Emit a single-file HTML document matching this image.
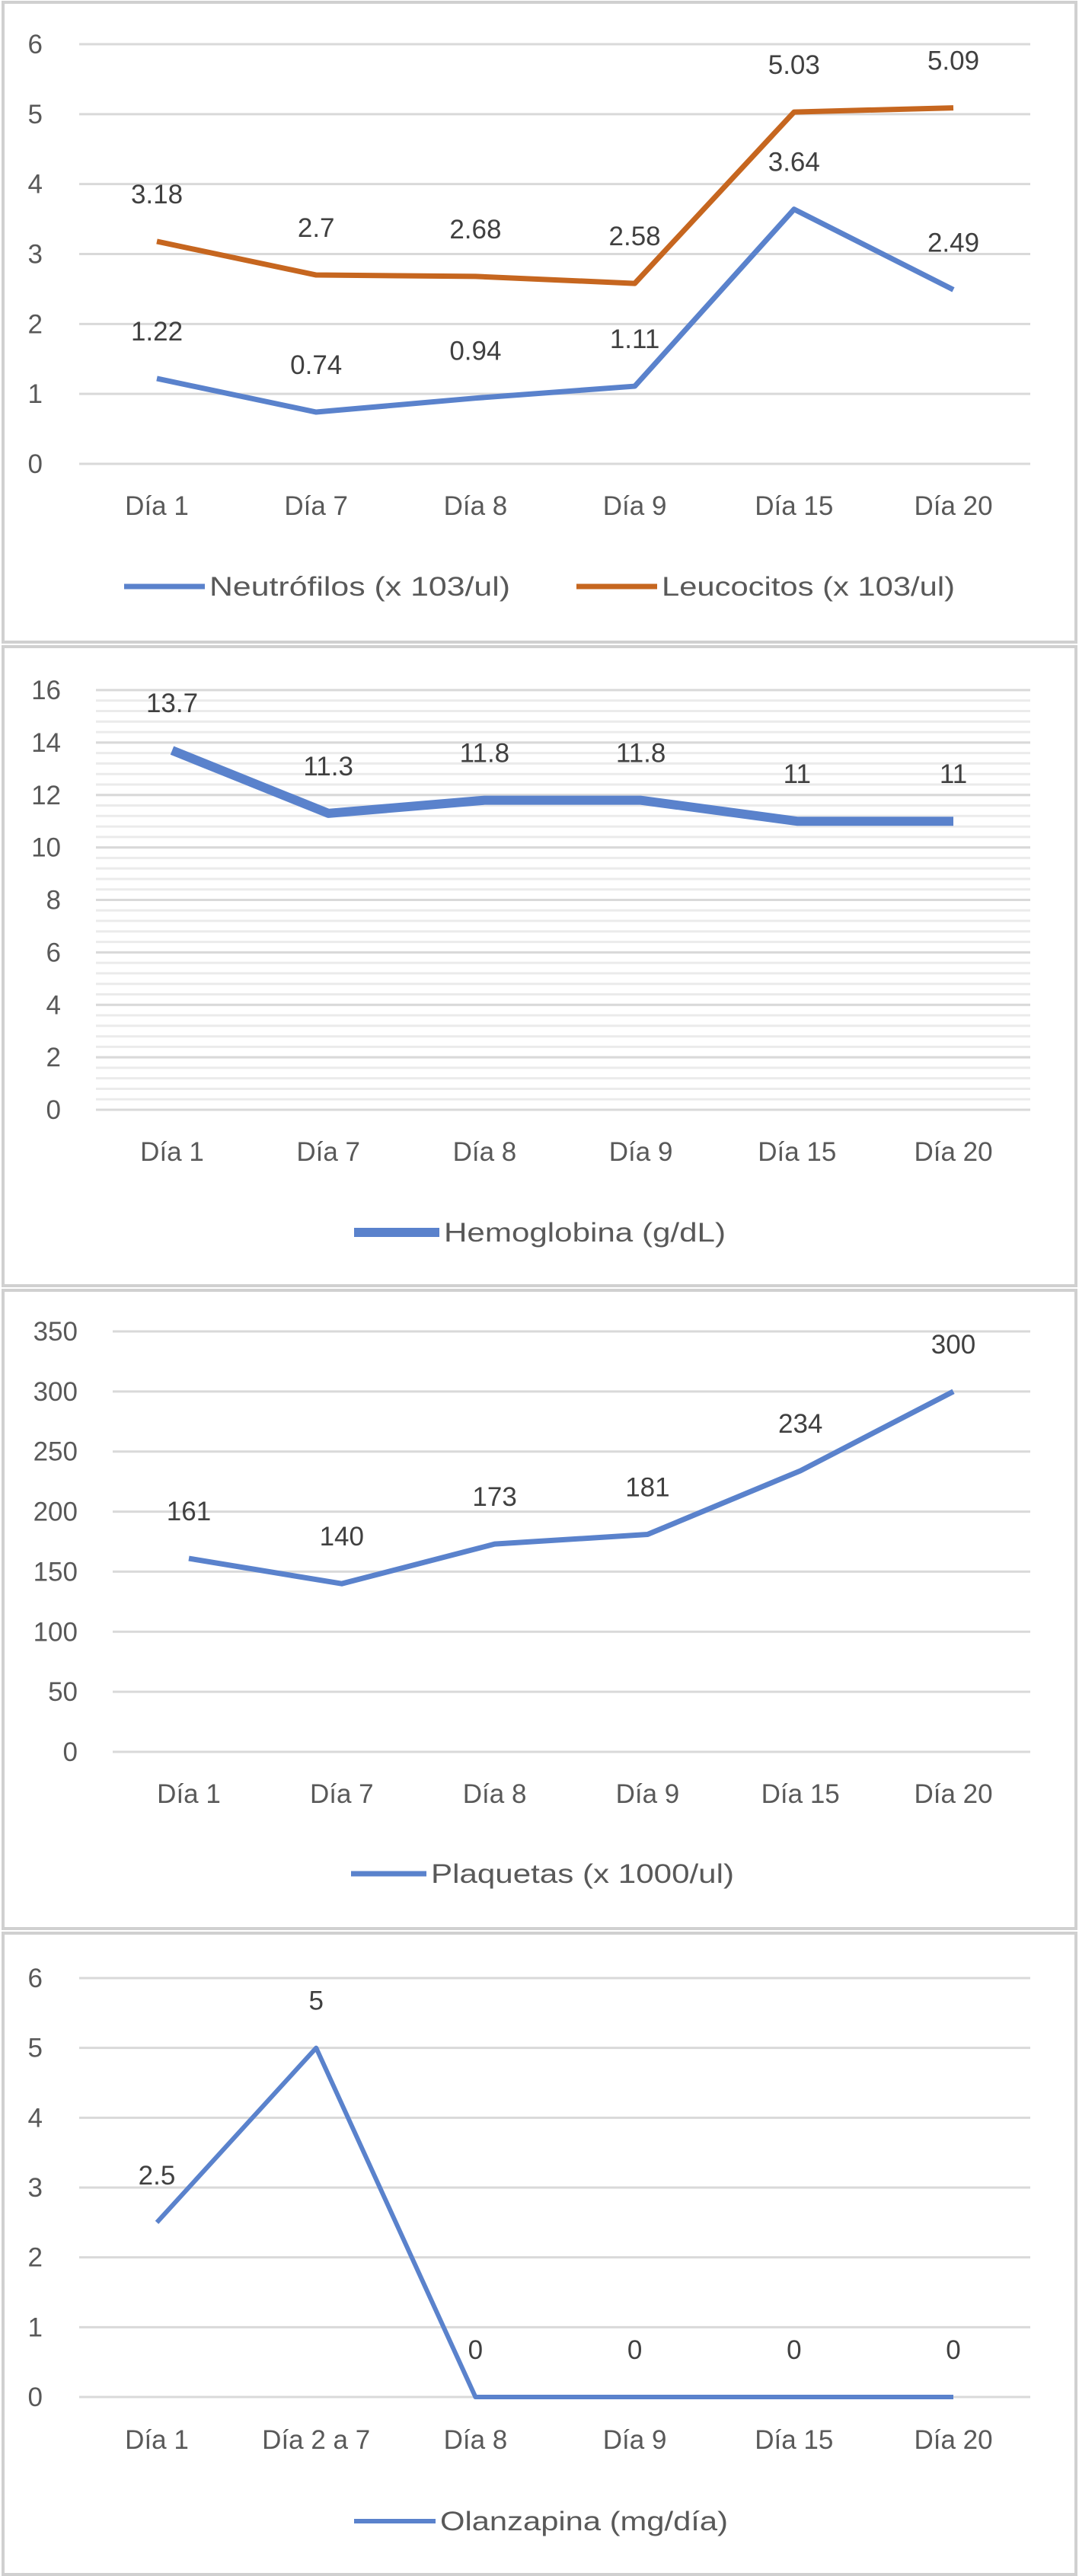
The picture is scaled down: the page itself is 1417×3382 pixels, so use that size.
<!DOCTYPE html>
<html><head><meta charset="utf-8"><style>
html,body{margin:0;padding:0;background:#fff;}
svg{display:block;font-family:"Liberation Sans",sans-serif;}
</style></head><body>
<svg id="s" width="1417" height="3382" viewBox="0 0 1417 3382" xmlns="http://www.w3.org/2000/svg"></svg>
<script>
// Chart 1 data
const cats1 = ["Día 1","Día 7","Día 8","Día 9","Día 15","Día 20"];
const neutro = [1.22,0.74,0.94,1.11,3.64,2.49];
const leuco = [3.18,2.7,2.68,2.58,5.03,5.09];
const ticks1 = [0,1,2,3,4,5,6];
// Chart 2 data
const cats2 = ["Día 1","Día 7","Día 8","Día 9","Día 15","Día 20"];
const hemo = [13.7,11.3,11.8,11.8,11,11];
const ticks2 = [0,2,4,6,8,10,12,14,16];
// Chart 3 data
const cats3 = ["Día 1","Día 7","Día 8","Día 9","Día 15","Día 20"];
const plaq = [161,140,173,181,234,300];
const ticks3 = [0,50,100,150,200,250,300,350];
// Chart 4 data
const cats4 = ["Día 1","Día 2 a 7","Día 8","Día 9","Día 15","Día 20"];
const olan = [2.5,5,0,0,0,0];
const ticks4 = [0,1,2,3,4,5,6];

const NS="http://www.w3.org/2000/svg";
const svg=document.getElementById('s');
const FS=35;
function mk(tag,attrs,parent,text){
  const e=document.createElementNS(NS,tag);
  for(const k in attrs)e.setAttribute(k,attrs[k]);
  if(text!==undefined)e.textContent=text;
  (parent||svg).appendChild(e);return e;
}
function chart(cfg){
  const g=mk('g',{});
  
  
  const frame=mk('rect',{x:4,y:cfg.boxTop,width:1409,height:cfg.boxBot-cfg.boxTop,fill:'#fff',stroke:'#d0d0d0','stroke-width':4},g);
  
  
  const tmax=cfg.ticks[cfg.ticks.length-1];
  const y=v=>cfg.y0-(v/tmax)*(cfg.y0-cfg.yTop);
  const x=i=>cfg.x0+i*(cfg.x1-cfg.x0)/(cfg.cats.length-1);
  if(cfg.minor){
    for(let v=0;v<=tmax+1e-9;v+=cfg.minor){
      const l=mk('line',{x1:cfg.gx0,x2:1353,y1:y(v),y2:y(v),stroke:'#ebebeb','stroke-width':3},g);
      
      
    }
  }
  cfg.ticks.forEach(t=>{
    const l=mk('line',{x1:cfg.gx0,x2:1353,y1:y(t),y2:y(t),stroke:'#d9d9d9','stroke-width':3},g);
    
    
    const tx=mk('text',{x:cfg.tickRight,y:y(t)+12,'text-anchor':'end','font-size':FS,fill:'#595959'},g,String(t));
    
    
  });
  cfg.cats.forEach((c,i)=>{
    const tx=mk('text',{x:x(i),y:cfg.xLabY+12,'text-anchor':'middle','font-size':FS,fill:'#595959'},g,c);
    
    
  });
  cfg.series.forEach(s=>{
    const pts=s.vals.map((v,i)=>x(i)+','+y(v)).join(' ');
    const pl=mk('polyline',{points:pts,fill:'none',stroke:s.color,'stroke-width':s.w,'stroke-linejoin':'round'},g);
    
    
    s.vals.forEach((v,i)=>{
      const tx=mk('text',{x:x(i),y:y(v)-50,'text-anchor':'middle','font-size':FS,fill:'#404040'},g,String(v));
      
      
    });
    const ll=mk('line',{x1:s.lx0,x2:s.lx1,y1:cfg.legY,y2:cfg.legY,stroke:s.color,'stroke-width':s.w},g);
    
    
    const lt=mk('text',{x:s.lx1+6,y:cfg.legY+12,'font-size':FS,fill:'#595959',textLength:s.tl,lengthAdjust:'spacingAndGlyphs'},g,s.label);
    
    
  });
}
chart({name:'leukocyte-chart',boxTop:3,boxBot:843,cats:cats1,ticks:ticks1,y0:609,yTop:58,x0:206,x1:1252,gx0:104,tickRight:56,xLabY:664,legY:770,
  series:[{id:'neutrofilos',vals:neutro,color:'#5a82cc',w:7,label:'Neutrófilos (x 103/ul)',lx0:163,lx1:269,tl:395},
          {id:'leucocitos',vals:leuco,color:'#c6661f',w:7,label:'Leucocitos (x 103/ul)',lx0:757,lx1:863,tl:385}]});
chart({name:'hemoglobin-chart',boxTop:849,boxBot:1688,cats:cats2,ticks:ticks2,y0:1457,yTop:906,x0:226,x1:1252,gx0:126,tickRight:80,xLabY:1512,legY:1618,minor:0.4,
  series:[{id:'hemoglobina',vals:hemo,color:'#5a82cc',w:12,label:'Hemoglobina (g/dL)',lx0:465,lx1:577,tl:370}]});
chart({name:'platelet-chart',boxTop:1694,boxBot:2532,cats:cats3,ticks:ticks3,y0:2300,yTop:1748,x0:248,x1:1252,gx0:148,tickRight:102,xLabY:2355,legY:2460,
  series:[{id:'plaquetas',vals:plaq,color:'#5a82cc',w:7,label:'Plaquetas (x 1000/ul)',lx0:461,lx1:560,tl:398}]});
chart({name:'olanzapine-chart',boxTop:2538,boxBot:3380,cats:cats4,ticks:ticks4,y0:3147,yTop:2597,x0:206,x1:1252,gx0:104,tickRight:56,xLabY:3203,legY:3310,
  series:[{id:'olanzapina',vals:olan,color:'#5a82cc',w:6,label:'Olanzapina (mg/día)',lx0:465,lx1:572,tl:378}]});
</script>
</body></html>
